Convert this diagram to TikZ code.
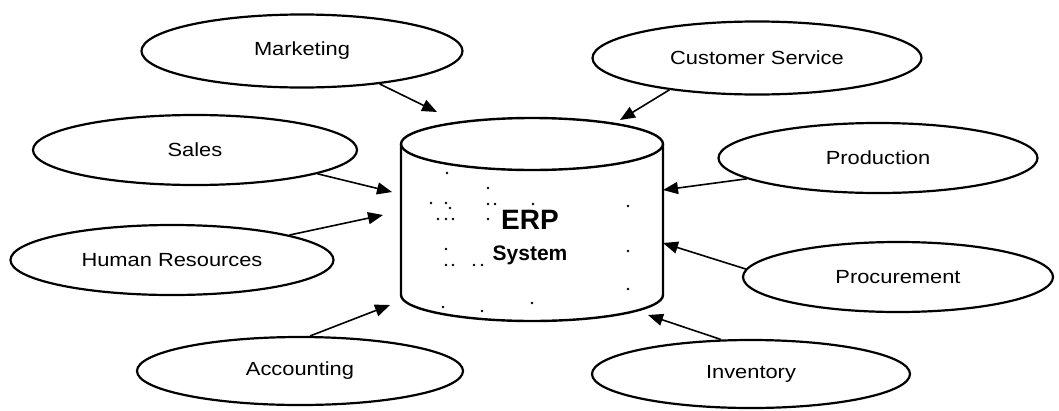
\documentclass[tikz,border=0pt]{standalone}
\usepackage{fontspec}
\setmainfont{Liberation Sans}
\newfontfamily\lblfont[FakeStretch=1.15]{Liberation Sans}
\usetikzlibrary{shapes.geometric,arrows.meta}

\tikzset{
  dept/.style={ellipse, draw, line width=2.2pt, inner sep=0pt, fill=white,
               font=\lblfont\fontsize{19}{22}\selectfont},
  feed/.style={line width=1.6pt, -{Triangle[length=15pt,width=12pt]}},
  cyl/.style={line width=2.4pt, line join=round},
}

\begin{document}
\begin{tikzpicture}[x=1pt, y=-1pt]
\useasboundingbox (0,0) rectangle (1059,410);

% central database cylinder
\draw[cyl] (401,144) -- (401,295)
      arc[start angle=180, end angle=0, x radius=131, y radius=26]
      -- (663,144);
\draw[cyl] (532,144) ellipse [x radius=131, y radius=26];
\node[font=\bfseries\fontsize{28}{30}\selectfont] (erp) at (530,220) {ERP};
\node[font=\bfseries\fontsize{21}{24}\selectfont] (sys) at (530,255) {System};
\foreach \p in {(447,173),(488,188),(431,203),(446,203),(450,208),(488,204),
                (495,204),(533,204),(628,206),(438,219),(446,219),(453,219),
                (488,219),(446,249),(628,251),(446,265),(453,265),(474,265),
                (482,265),(628,289),(532,303),(443,307),(482,311)}
  \fill \p circle (1.3);

% departments
\node[dept, minimum width=321, minimum height=73] (mkt)  at (302,51)  {Marketing};
\node[dept, minimum width=329, minimum height=73] (cs)   at (757,58)  {Customer Service};
\node[dept, minimum width=324, minimum height=70] (sales) at (195,150) {Sales};
\node[dept, minimum width=319, minimum height=70] (prod) at (878,158) {Production};
\node[dept, minimum width=323, minimum height=70] (hr)   at (172,260) {Human Resources};
\node[dept, minimum width=310, minimum height=70] (proc) at (898,277) {Procurement};
\node[dept, minimum width=326, minimum height=68] (acc)  at (300,371) {Accounting};
\node[dept, minimum width=318, minimum height=68] (inv)  at (751,374) {Inventory};

% arrow heads at the database
\coordinate (tmkt)  at (437,112);
\coordinate (tcs)   at (620,120);
\coordinate (tsales) at (392,192);
\coordinate (thr)   at (383,215);
\coordinate (tacc)  at (390,305);
\coordinate (tprod) at (663,190);
\coordinate (tproc) at (663,243);
\coordinate (tinv)  at (648,315);

% data flows into the ERP system
\draw[feed] (mkt.-23)   -- (tmkt);
\draw[feed] (cs.-160)   -- (tcs);
\draw[feed] (sales.-11) -- (tsales);
\draw[feed] (hr.12)     -- (thr);
\draw[feed] (acc.74)    -- (tacc);
\draw[feed] (prod.189)  -- (tprod);
\draw[feed] (proc.177)  -- (tproc);
\draw[feed] (inv.131)   -- (tinv);
\end{tikzpicture}
\end{document}
